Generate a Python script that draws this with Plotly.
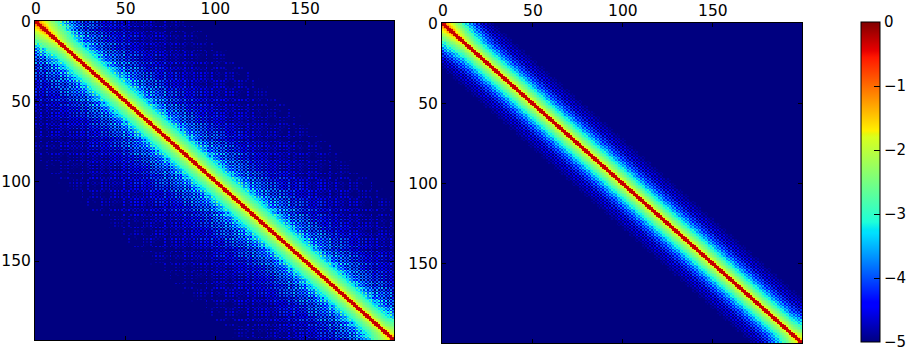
"""Two log10 matrix heatmaps with a shared colorbar."""

import numpy as np
import plotly.graph_objects as go

W, H = 907, 347
N = 200
ticks = [0, 50, 100, 150]
bar_ticks = [0, -1, -2, -3, -4, -5]

# values, by distance from the diagonal
left_even = [-0.25, -1.75, -2.2, -2.5, -2.75, -2.95, -3.1, -3.25, -3.4, -3.55, -3.65, -3.75, -3.85, -3.9, -4.0,
             -4.1, -4.2, -4.3, -4.35, -4.4, -4.45, -4.5, -4.55, -4.6, -4.65, -4.7, -4.7, -4.75, -4.75, -4.8,
             -4.8, -4.85, -4.85, -4.9, -4.9, -4.95, -4.95, -5.0, -5.0, -5.05, -5.05, -5.1, -5.1, -5.15, -5.3,
             -5.5, -5.7, -5.9]
left_odd = [-0.35, -2.0, -2.35, -2.65, -2.95, -3.3, -3.7, -4.05, -4.4, -4.7, -4.9, -5.0, -5.1, -5.2, -5.3,
            -5.3, -5.4, -5.4, -5.45, -5.45, -5.5, -5.5, -5.5, -5.55, -5.55, -5.6, -5.6, -5.6, -5.65, -5.65,
            -5.7, -5.7, -5.75, -5.75, -5.8, -5.8, -5.85, -5.85, -5.9, -5.9, -5.95, -5.95, -6.0, -6.0, -6.0,
            -6.0, -6.0, -6.0]
right_even = [-0.25, -1.8, -2.25, -2.6, -2.9, -3.15, -3.4, -3.65, -3.9, -4.1, -4.3, -4.5, -4.65, -4.8, -4.95,
              -5.05, -5.4, -5.6, -5.8, -6.0]
right_odd = [-0.35, -2.05, -2.4, -2.8, -3.2, -3.65, -4.05, -4.4, -4.7, -4.95, -5.1, -5.15, -5.2, -5.3, -5.4,
             -5.6, -5.8, -6.0, -6.0, -6.0]

# stripes that run along rows and columns in the left matrix
left_stripes = [0.16, -0.24, 0.08, 0.24, -0.12, -0.28, 0.2, 0.02, -0.16, 0.24, -0.08, 0.12, -0.24, 0.1, 0.2,
                -0.14, 0.0, -0.22, 0.18, 0.06, -0.1, 0.24, -0.18]
right_stripes = [0.03, -0.04, 0.02, 0.05, -0.03, -0.05, 0.04]

# the blob in the first rows and columns, and the smaller one in the last
start_boost = [0.6, 0.55, 0.5, 0.45, 0.4, 0.35, 0.3, 0.25, 0.2, 0.15, 0.1, 0.05]
end_boost = [0.3, 0.22, 0.15, 0.08]
boost_fade = [1, 1, 1, 1, 1, 1, 1, 1, 1, 1, 1, 1, 0.9, 0.9, 0.8, 0.8, 0.7, 0.6, 0.5, 0.4, 0.3, 0.2, 0.15, 0.1]

jet_stops = [0, 0.11, 0.125, 0.34, 0.35, 0.375, 0.64, 0.65, 0.66, 0.89, 0.91, 1]
jet_colors = ["#000080", "#0000ff", "#0000ff", "#00e0ff", "#00e5f7", "#1effd9", "#d9ff1e", "#e5f70f",
              "#fff000", "#ff1700", "#e80000", "#800000"]


def lookup(boost, idx):
    table = np.zeros(N)
    table[:len(boost)] = boost
    return table[idx]


def build_matrix(even, odd, stripes, stripe_from):
    i, j = np.indices((N, N))
    off = np.abs(i - j)
    slot = np.minimum(off // 2, len(even) - 1)
    z = np.where(off % 2 == 0, np.array(even)[slot], np.array(odd)[slot])
    s = np.array(stripes)
    texture = s[i % len(s)] + s[j % len(s)]
    z = z + np.where(off >= stripe_from, texture, 0)
    fade = lookup(boost_fade, off) * (off > 1)
    z = z + fade * lookup(start_boost, np.minimum(i, j))
    z = z + fade * lookup(end_boost, N - 1 - np.maximum(i, j))
    return np.minimum(z, 0)


left_z = build_matrix(left_even, left_odd, left_stripes, 12)
right_z = build_matrix(right_even, right_odd, right_stripes, 10)
colorscale = [[a, b] for a, b in zip(jet_stops, jet_colors)]

fig = go.Figure()
fig.add_trace(go.Heatmap(z=left_z, xaxis="x", yaxis="y", zmin=-5, zmax=0, colorscale=colorscale,
                         showscale=False, hoverinfo="skip"))
fig.add_trace(go.Heatmap(z=right_z, xaxis="x2", yaxis="y2", zmin=-5, zmax=0, colorscale=colorscale,
                         hoverinfo="skip",
                         colorbar=dict(tickvals=bar_ticks, ticks="inside", ticklen=6, tickcolor="black",
                                       tickwidth=1, outlinecolor="black", outlinewidth=1,
                                       ticklabeloverflow="allow",
                                       thickness=19, thicknessmode="pixels", len=320, lenmode="pixels",
                                       x=861 / W, xanchor="left", y=1 - 22 / H, yanchor="top",
                                       xpad=0, ypad=0, tickfont=dict(family="DejaVu Sans", size=15,
                                                                     color="black"))))


def x_axis(left, right, anchor):
    return dict(domain=[left / W, right / W], anchor=anchor, side="top", range=[-0.5, N - 0.5],
                tickvals=ticks, ticks="inside", ticklen=4, tickcolor="black", showline=True,
                linecolor="black", linewidth=1, mirror="ticks", showgrid=False, zeroline=False)


def y_axis(top, bottom, anchor):
    return dict(domain=[1 - bottom / H, 1 - top / H], anchor=anchor, range=[N - 0.5, -0.5],
                tickvals=ticks, ticks="inside", ticklen=4, tickcolor="black", showline=True,
                linecolor="black", linewidth=1, mirror="ticks", showgrid=False, zeroline=False)


fig.update_layout(width=W, height=H, margin=dict(l=0, r=0, t=0, b=0, autoexpand=False), paper_bgcolor="white",
                  plot_bgcolor="white", font=dict(family="DejaVu Sans", size=15.5, color="black"),
                  xaxis=x_axis(35, 394, "y"), yaxis=y_axis(21, 340, "x"),
                  xaxis2=x_axis(442, 802, "y2"), yaxis2=y_axis(23, 343, "x2"))

fig.write_html("out.html", config=dict(displayModeBar=False),
               post_script="document.body.style.margin='0';document.body.style.overflow='hidden';")
